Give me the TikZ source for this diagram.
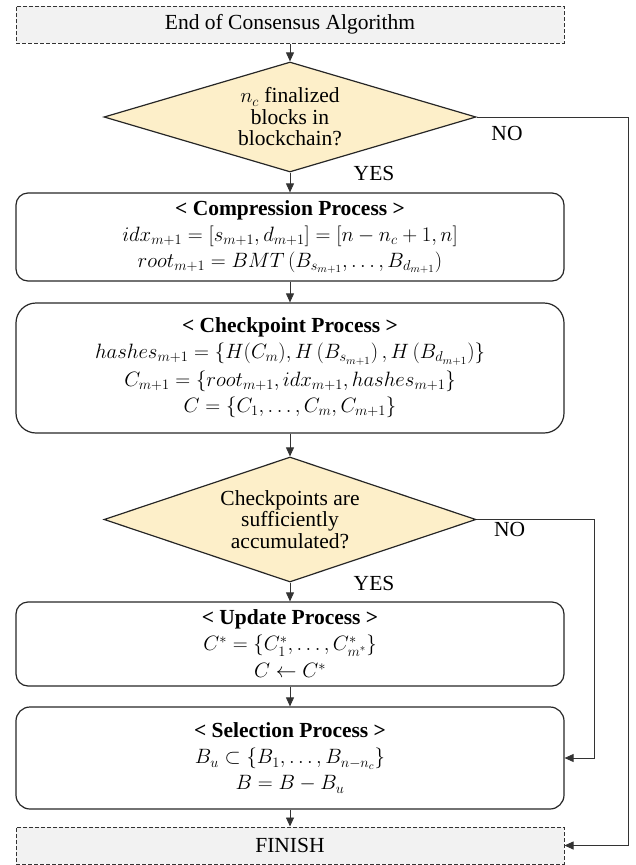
\documentclass[tikz,border=0pt]{standalone}
\usepackage{fontspec}
\setmainfont{Liberation Serif}
\usepackage{tikz}
\usetikzlibrary{arrows.meta, shapes.geometric, positioning}
\definecolor{FC-gray}{HTML}{F2F2F2}
\definecolor{FC-gold}{HTML}{FDEFC9}

\begin{document}
\begin{tikzpicture}[x=1pt, y=-1pt, font=\rmfamily\fontsize{21.5}{24}\selectfont,
  term/.style={fill=FC-gray, draw=black!80, dash pattern=on 4pt off 2pt, line width=1pt, minimum width=548pt, minimum height=37pt},
  proc/.style={draw=black!85, line width=1.2pt, rounded corners=12pt, minimum width=548pt, align=center, font=\rmfamily\fontsize{21.5}{26}\selectfont},
  decision/.style={diamond, aspect=3.4, fill=FC-gold, draw=black!85, line width=1.2pt, inner sep=0pt, minimum width=372pt, minimum height=110pt, align=center, font=\rmfamily\fontsize{21.5}{21.5}\selectfont},
  flow/.style={-{Triangle[length=9pt,width=8pt]}, line width=0.8pt, draw=black!80}]
  \useasboundingbox (0,0) rectangle (636,865);
  \node[term] (start) at (290,24.5) {End of Consensus Algorithm};
  \node[decision] (dec1) at (290,117) {$n_c$ finalized\\blocks in\\blockchain?};
  \node[proc, minimum height=88pt] (comp) at (290,237) {\textbf{< Compression Process >}\\$idx_{m+1}=[s_{m+1},d_{m+1}]=[n-n_c+1,n]$\\$root_{m+1}=BMT\left(B_{s_{m+1}},\dots,B_{d_{m+1}}\right)$};
  \node[proc, minimum height=130pt, rounded corners=20pt] (chk) at (290,368) {\textbf{< Checkpoint Process >}\\$hashes_{m+1}=\{H(C_m),H\left(B_{s_{m+1}}\right),H\left(B_{d_{m+1}}\right)\}$\\[2pt]$C_{m+1}=\{root_{m+1},idx_{m+1},hashes_{m+1}\}$\\$C=\{C_1,\dots,C_m,C_{m+1}\}$};
  \node[decision, minimum height=125pt] (dec2) at (290,519.5) {Checkpoints are\\sufficiently\\accumulated?};
  \node[proc, minimum height=84pt] (upd) at (290,644) {\textbf{< Update Process >}\\$C^*=\{C^*_1,\dots,C^*_{m^*}\}$\\[1pt]$C\leftarrow C^*$};
  \node[proc, minimum height=102pt, rounded corners=14pt] (sel) at (290,758) {\textbf{< Selection Process >}\\$B_u\subset\left\{B_1,\dots,B_{n-n_c}\right\}$\\$B=B-B_u$};
  \node[term] (fin) at (290,845.5) {FINISH};

  \draw[flow] (start) -- (dec1);
  \draw[flow] (dec1) -- node[pos=0.05, right=60pt]{YES} (comp);
  \draw[flow] (comp) -- (chk);
  \draw[flow] (chk) -- (dec2);
  \draw[flow] (dec2) -- node[pos=0.05, right=60pt]{YES} (upd);
  \draw[flow] (upd) -- (sel);
  \draw[flow] (sel) -- (fin);
  \draw[flow] (dec1.east) -- node[pos=0.2, below=6pt]{NO} ++(152,0) |- (fin.east);
  \draw[flow] (dec2.east) -- node[pos=0.28, below=-1pt]{NO} ++(118,0) |- (sel.east);
\end{tikzpicture}
\end{document}
